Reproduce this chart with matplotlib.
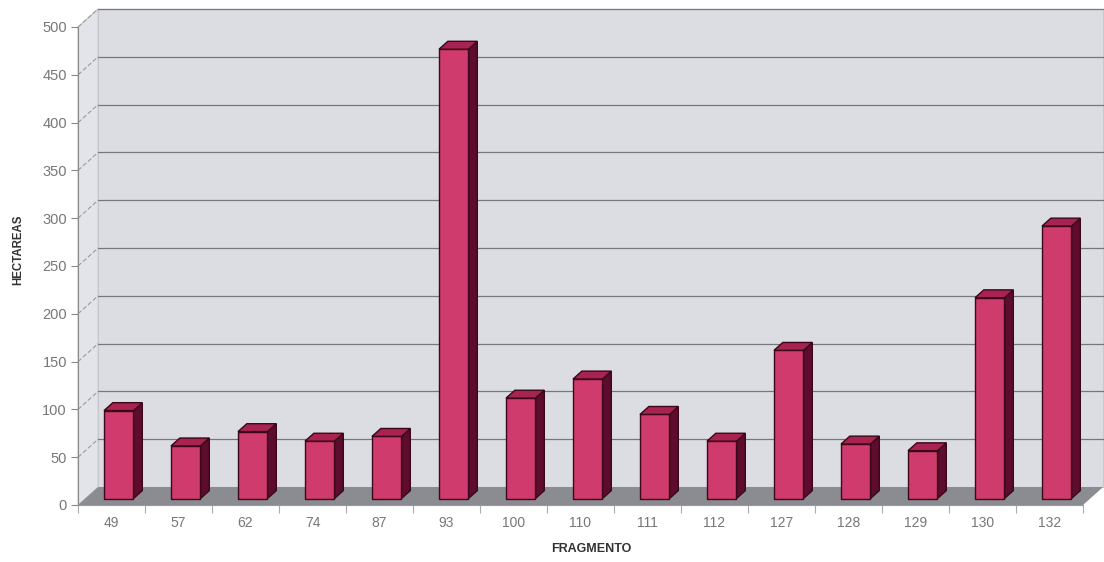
import numpy as np
import matplotlib.pyplot as plt
from matplotlib.patches import Polygon

fragmentos = ['49', '57', '62', '74', '87', '93', '100', '110', '111', '112',
              '127', '128', '129', '130', '132']
hectareas = [92, 55, 70, 60, 65, 470, 105, 125, 88, 60, 155, 57, 50, 210, 285]
yticks = np.arange(0, 501, 50)

# fake 3D: depth offset of the back wall in data units
DX = 0.30
DY = 18.8
F0, F1 = 0.36, 0.80     # bar front/back depth as fraction of wall depth
BW = 0.44               # bar width

wall_col = '#dcdde3'
side_col = '#e3e4e9'
floor_col = '#8b8c92'
grid_col = '#76767b'
face_col = '#cf3b6c'
side_bar = '#5e0c2d'
top_bar = '#a8234f'
edge_col = '#3a0818'

fig = plt.figure(figsize=(11.04, 5.62), dpi=100)
W, H = 1104, 562
ax = fig.add_axes([78 / W, 57 / H, (1083 - 78) / W, (505 - 27) / H])
ax.set_xlim(-0.5, 14.5)
ax.set_ylim(0, 500)
ax.patch.set_visible(False)

n = len(fragmentos)
xl, xr = -0.5, n - 0.5

# walls and floor
back = Polygon([(xl + DX, DY), (xr + DX, DY), (xr + DX, 500 + DY), (xl + DX, 500 + DY)],
               closed=True, fc=wall_col, ec='#c8c9ce', lw=0.8, clip_on=False, zorder=0)
side = Polygon([(xl, 0), (xl + DX, DY), (xl + DX, 500 + DY), (xl, 500)],
               closed=True, fc=side_col, ec='#c8c9ce', lw=0.8, clip_on=False, zorder=0)
floor = Polygon([(xl, 0), (xr, 0), (xr + DX, DY), (xl + DX, DY)],
                closed=True, fc=floor_col, ec='none', clip_on=False, zorder=1)
for p in (back, side, floor):
    ax.add_patch(p)

# gridlines on back and side walls
for v in yticks[1:]:
    ax.plot([xl + DX, xr + DX], [v + DY, v + DY], color=grid_col, lw=0.9,
            clip_on=False, zorder=0.5)
    ax.plot([xl, xl + DX], [v, v + DY], color='#9a9aa0', lw=0.8, ls=(0, (4, 2)),
            clip_on=False, zorder=0.5)

# columns
d = F1 - F0
for k, v in enumerate(hectareas):
    x0 = k - BW / 2 + DX * F0
    x1 = x0 + BW
    y0 = DY * F0
    top = v + y0
    ddx, ddy = DX * d, DY * d
    front = Polygon([(x0, y0), (x1, y0), (x1, top), (x0, top)], closed=True,
                    fc=face_col, ec=edge_col, lw=1.0, clip_on=False, zorder=3)
    rside = Polygon([(x1, y0), (x1 + ddx, y0 + ddy), (x1 + ddx, top + ddy), (x1, top)],
                    closed=True, fc=side_bar, ec=edge_col, lw=1.0, clip_on=False, zorder=2)
    cap = Polygon([(x0, top), (x1, top), (x1 + ddx, top + ddy), (x0 + ddx, top + ddy)],
                  closed=True, fc=top_bar, ec=edge_col, lw=1.0, clip_on=False, zorder=3)
    for p in (rside, front, cap):
        ax.add_patch(p)

# axes: left spine as value axis, bottom spine as floor front edge
for s in ('top', 'right'):
    ax.spines[s].set_visible(False)
ax.spines['left'].set_color('#8a8a8a')
ax.spines['bottom'].set_color('#9a9a9a')
ax.spines['left'].set_linewidth(0.8)
ax.spines['bottom'].set_linewidth(0.8)

ax.set_yticks(yticks)
ax.tick_params(axis='y', length=5, width=0.8, color='#8a8a8a', pad=3,
               labelsize=10.5, labelcolor='#777777')

ax.set_xticks(np.arange(xl, xr + 0.01, 1.0))
ax.set_xticklabels([])
ax.tick_params(axis='x', which='major', length=6, width=0.8, color='#aaaaaa')
ax.set_xticks(np.arange(n), minor=True)
ax.set_xticklabels(fragmentos, minor=True)
ax.tick_params(axis='x', which='minor', length=0, pad=8, labelsize=10,
               labelcolor='#777777')

for lab in ax.get_xticklabels(minor=True) + ax.get_yticklabels():
    lab.set_family('Liberation Sans')

fig.text(18 / W, 1 - 250 / H, 'HECTAREAS', rotation=90, ha='center', va='center',
         fontsize=8.3, fontweight='bold', color='#333333', family='Liberation Sans')
fig.text(591 / W, 1 - 549 / H, 'FRAGMENTO', ha='center', va='center',
         fontsize=9, fontweight='bold', color='#333333', family='Liberation Sans')

fig.savefig('out.png', dpi=100, facecolor='white')
